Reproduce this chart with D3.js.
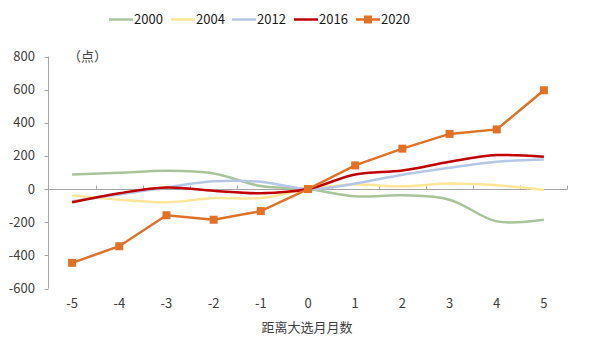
<!DOCTYPE html>
<html><head><meta charset="utf-8">
<script src="https://cdn.jsdelivr.net/npm/d3@7"></script>
<style>body{margin:0;background:#fff}svg{display:block}text{font-family:"Noto Sans CJK SC","Noto Sans",sans-serif;fill:#404040}</style>
</head><body>
<script>
const categories = [-5,-4,-3,-2,-1,0,1,2,3,4,5];
const s2000 = [88,98,110,94,18,0,-44,-38,-64,-195,-185];
const s2004 = [-38,-64,-80,-54,-54,0,27,17,33,23,-5];
const s2012 = [-74,-33,10,47,44,0,33,87,128,165,179];
const s2016 = [-80,-25,10,-10,-25,0,88,112,165,205,195];
const s2020 = [-445,-345,-158,-185,-133,0,143,244,333,360,596];
const yTicks = [800,600,400,200,0,-200,-400,-600];
const seriesNames = ["2000","2004","2012","2016","2020"];
const seriesData = [s2000,s2004,s2012,s2016,s2020];
const colors = ["#a9c49a","#ffe699","#b4c7e7","#c00000","#e07126"];

const W=602,H=343;
const svg=d3.select("body").append("svg").attr("width",W).attr("height",H);
const x=d3.scaleBand().domain(categories).range([48.5,567.5]);
const y=d3.scaleLinear().domain([-600,800]).range([288.5,56.5]);

// y axis
svg.append("line").attr("x1",48.5).attr("x2",48.5).attr("y1",y(800)).attr("y2",y(-600)).attr("stroke","#a6a6a6");
yTicks.forEach(t=>{
  svg.append("line").attr("x1",44.5).attr("x2",48.5).attr("y1",Math.round(y(t))+0.5).attr("y2",Math.round(y(t))+0.5).attr("stroke","#a6a6a6");
  svg.append("text").attr("x",35).attr("y",y(t)+4.5).attr("text-anchor","end").attr("font-size",13).text(t);
});
// x axis at y=0
const y0=Math.round(y(0))+0.5;
svg.append("line").attr("x1",48.5).attr("x2",567.5).attr("y1",y0).attr("y2",y0).attr("stroke","#a6a6a6");
const bounds=categories.map(c=>x(c)).concat([x(categories[categories.length-1])+x.bandwidth()]);
bounds.slice(1).forEach(b=>{
  svg.append("line").attr("x1",Math.round(b)+0.5).attr("x2",Math.round(b)+0.5).attr("y1",y0-4).attr("y2",y0).attr("stroke","#a6a6a6");
});
categories.forEach(c=>{
  svg.append("text").attr("x",x(c)+x.bandwidth()/2).attr("y",308).attr("text-anchor","middle").attr("font-size",13).text(c);
});
svg.append("text").attr("x",307).attr("y",332).attr("text-anchor","middle").attr("font-size",13).text("距离大选月月数");
svg.append("text").attr("x",68).attr("y",61).attr("font-size",13).text("（点）");

const cx=c=>x(c)+x.bandwidth()/2;
seriesData.forEach((d,i)=>{
  const pts=categories.map((c,j)=>[cx(c),y(d[j])]);
  const line=d3.line().curve(i===4?d3.curveLinear:d3.curveCatmullRom.alpha(0.5));
  svg.append("path").attr("d",line(pts)).attr("fill","none").attr("stroke",colors[i]).attr("stroke-width",2.5);
  if(i===4){
    svg.selectAll(".m").data(pts).enter().append("rect").attr("x",p=>p[0]-4).attr("y",p=>p[1]-4).attr("width",8).attr("height",8).attr("fill",colors[i]);
  }
});

// legend
const lx=[109,171,232,294,356];
seriesNames.forEach((n,i)=>{
  svg.append("line").attr("x1",lx[i]).attr("x2",lx[i]+24).attr("y1",19.5).attr("y2",19.5).attr("stroke",colors[i]).attr("stroke-width",2.5);
  if(i===4) svg.append("rect").attr("x",lx[i]+8).attr("y",15.5).attr("width",8).attr("height",8).attr("fill",colors[i]);
  svg.append("text").attr("x",lx[i]+25).attr("y",24).attr("font-size",13).style("fill","#1a1a1a").text(n);
});
</script>
</body></html>
